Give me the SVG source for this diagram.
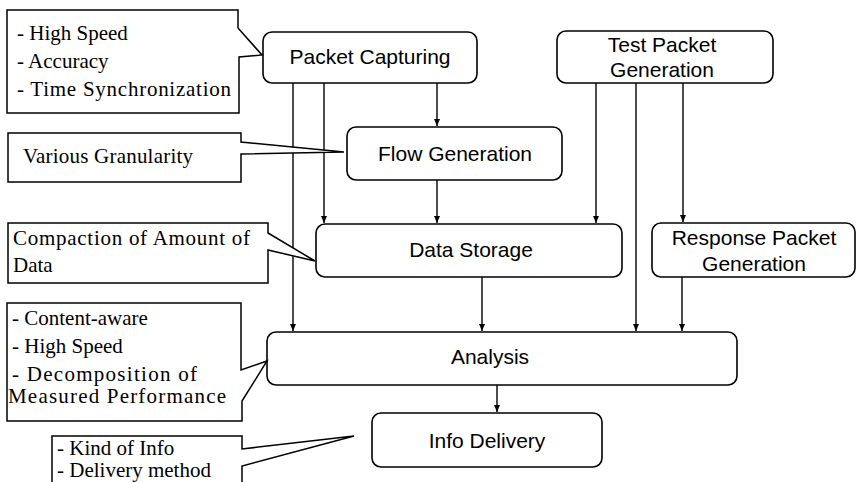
<svg xmlns="http://www.w3.org/2000/svg" width="861" height="482" viewBox="0 0 861 482">
<defs>
<marker id="ah" markerWidth="8" markerHeight="8" refX="7" refY="4" orient="auto" markerUnits="userSpaceOnUse">
<path d="M0,1 L7,4 L0,7 Z" fill="#000"/>
</marker>
<style>
.node rect{fill:#fff;stroke:#000;stroke-width:1.6}
.node text{font-family:"Liberation Sans",Arial,sans-serif;font-size:21px;fill:#000;text-anchor:middle}
.note path{fill:#fff;stroke:#000;stroke-width:1.5}
.note text{font-family:"Liberation Serif","Times New Roman",serif;font-size:21px;fill:#000}
.conn line{stroke:#000;stroke-width:1.4;marker-end:url(#ah)}
</style>
</defs>
<rect width="861" height="482" fill="#fff"/>
<g class="conn" id="connectors">
<line x1="293" y1="83" x2="293" y2="331"/>
<line x1="324" y1="83" x2="324" y2="223"/>
<line x1="437" y1="83" x2="437" y2="126"/>
<line x1="437" y1="180" x2="437" y2="223"/>
<line x1="596" y1="83" x2="596" y2="223"/>
<line x1="636" y1="83" x2="636" y2="331"/>
<line x1="683" y1="83" x2="683" y2="222"/>
<line x1="682" y1="277" x2="682" y2="331"/>
<line x1="482" y1="277" x2="482" y2="331"/>
<line x1="497" y1="385" x2="497" y2="412"/>
</g>
<g class="node" id="packet-capturing">
<rect x="263" y="32" width="214" height="51" rx="9"/>
<text x="370" y="64">Packet Capturing</text>
</g>
<g class="node" id="test-packet-generation">
<rect x="557" y="31" width="216" height="52" rx="9"/>
<text x="662" y="52">Test Packet</text>
<text x="662" y="77">Generation</text>
</g>
<g class="node" id="flow-generation">
<rect x="347" y="127" width="215" height="53" rx="9"/>
<text x="455" y="161">Flow Generation</text>
</g>
<g class="node" id="data-storage">
<rect x="316" y="224" width="306" height="53" rx="9"/>
<text x="471" y="257">Data Storage</text>
</g>
<g class="node" id="response-packet-generation">
<rect x="652" y="223" width="203" height="54" rx="9"/>
<text x="754" y="245">Response Packet</text>
<text x="754" y="271">Generation</text>
</g>
<g class="node" id="analysis">
<rect x="267" y="332" width="470" height="53" rx="9"/>
<text x="490" y="364">Analysis</text>
</g>
<g class="node" id="info-delivery">
<rect x="372" y="413" width="230" height="54" rx="9"/>
<text x="487" y="448">Info Delivery</text>
</g>
<g class="note" id="note-packet-capturing">
<path d="M7,10 H238 V28 L262,55 L239,57 V113 H7 Z"/>
<text x="17" y="40" font-size="22">- High Speed</text>
<text x="17" y="68" font-size="22">- Accuracy</text>
<text x="17" y="96" font-size="22" textLength="214">- Time Synchronization</text>
</g>
<g class="note" id="note-flow-generation">
<path d="M8,133 H241 V142 L344,152 L241,154 V182 H8 Z"/>
<text x="23" y="163" textLength="170">Various Granularity</text>
</g>
<g class="note" id="note-data-storage">
<path d="M8,223 H268 V233 L315,261 L268,250 V283 H8 Z"/>
<text x="13" y="245" textLength="237">Compaction of Amount of</text>
<text x="13" y="272">Data</text>
</g>
<g class="note" id="note-analysis">
<path d="M7,303 H241 V370 L267,361 L242,401 V421 H7 Z"/>
<text x="12" y="325" font-size="20">- Content-aware</text>
<text x="12" y="353" font-size="20">- High Speed</text>
<text x="12" y="381" font-size="20" textLength="185">- Decomposition of</text>
<text x="8" y="403" font-size="20" textLength="218">Measured Performance</text>
</g>
<g class="note" id="note-info-delivery">
<path d="M52,486 V436 H242 V449 L354,436 L242,466 V486 Z"/>
<text x="57" y="455" font-size="17">- Kind of Info</text>
<text x="57" y="477" font-size="17">- Delivery method</text>
</g>
</svg>
